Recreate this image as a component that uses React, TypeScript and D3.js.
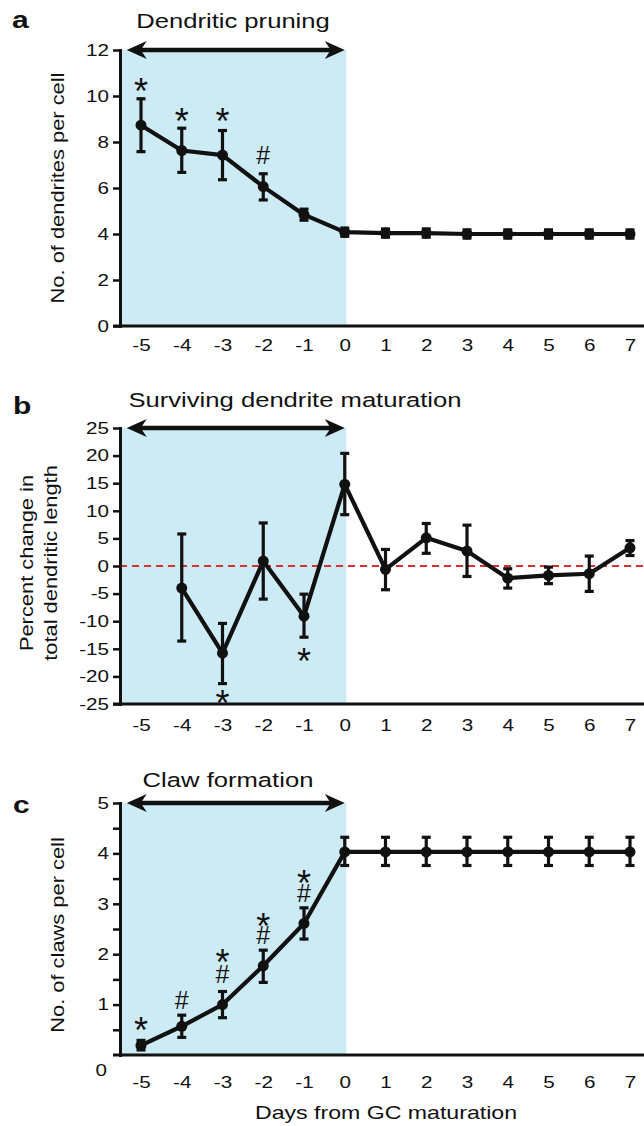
import React, { useEffect, useRef } from 'react';
import * as d3 from 'd3';

const W = 644;
const H = 1126;
const FONT = 'Arial, "Liberation Sans", Helvetica, sans-serif';
const SX = 1.25; // lettering in the figure is set wide
const SHADE = '#cdebf5';
const INK = '#111111';
const AXIS_X = 120;

// days on the x axis, shared by all three panels
const dayTicks = [-5, -4, -3, -2, -1, 0, 1, 2, 3, 4, 5, 6, 7];

// a: number of dendrites per cell
const dendDays = [-5, -4, -3, -2, -1, 0, 1, 2, 3, 4, 5, 6, 7];
const dendMean = [8.73, 7.63, 7.43, 6.06, 4.84, 4.08, 4.04, 4.04, 4.0, 4.0, 4.0, 4.0, 4.0];
const dendLow = [7.58, 6.68, 6.36, 5.48, 4.6, 3.9, 3.86, 3.86, 3.82, 3.82, 3.82, 3.82, 3.82];
const dendHigh = [9.88, 8.6, 8.5, 6.62, 5.08, 4.26, 4.22, 4.22, 4.18, 4.18, 4.18, 4.18, 4.18];
const dendTicks = [0, 2, 4, 6, 8, 10, 12];
const dendMarkDays = [-5, -4, -3, -2];
const dendMarkSyms = ['*', '*', '*', '#'];
const dendMarkAt = [10.55, 9.25, 9.25, 7.43];

// b: percent change in total dendritic length
const lenDays = [-4, -3, -2, -1, 0, 1, 2, 3, 4, 5, 6, 7];
const lenMean = [-4.0, -15.8, 0.9, -9.1, 14.8, -0.6, 5.1, 2.7, -2.2, -1.7, -1.4, 3.3];
const lenLow = [-13.6, -21.3, -6.0, -12.9, 9.3, -4.3, 2.3, -1.9, -4.0, -3.2, -4.6, 1.9];
const lenHigh = [5.8, -10.4, 7.8, -5.1, 20.4, 3.0, 7.7, 7.4, -0.5, -0.2, 1.8, 4.6];
const lenTicks = [-25, -20, -15, -10, -5, 0, 5, 10, 15, 20, 25];
const lenMarkDays = [-3, -1];
const lenMarkSyms = ['*', '*'];
const lenMarkAt = [-23.4, -15.9];

// c: number of claws per cell
const clawDays = [-5, -4, -3, -2, -1, 0, 1, 2, 3, 4, 5, 6, 7];
const clawMean = [0.19, 0.57, 1.0, 1.77, 2.61, 4.03, 4.03, 4.03, 4.03, 4.03, 4.03, 4.03, 4.03];
const clawLow = [0.1, 0.35, 0.74, 1.44, 2.3, 3.76, 3.76, 3.76, 3.76, 3.76, 3.76, 3.76, 3.76];
const clawHigh = [0.29, 0.79, 1.26, 2.08, 2.92, 4.32, 4.32, 4.32, 4.32, 4.32, 4.32, 4.32, 4.32];
const clawTicks = [0.5, 1, 1.5, 2, 2.5, 3, 3.5, 4, 4.5, 5];
const clawMarkDays = [-5, -4, -3, -3, -2, -2, -1, -1];
const clawMarkSyms = ['*', '#', '#', '*', '#', '*', '#', '*'];
const clawMarkAt = [0.64, 1.08, 1.61, 2.0, 2.37, 2.71, 3.21, 3.57];

const x = d3.scaleLinear().domain([-5, 7]).range([141, 630]);

const panels = [
  {
    letter: 'a', letterPos: [12, 28], title: 'Dendritic pruning', titlePos: [233, 28],
    yLabel: ['No. of dendrites per cell'], yLabelX: [64], yLabelY: 188,
    yDomain: [0, 12], yRange: [326, 50], ticks: dendTicks, fmt: (d) => String(d), xPad: 13,
    days: dendDays, mean: dendMean, low: dendLow, high: dendHigh,
    markDays: dendMarkDays, markSyms: dendMarkSyms, markAt: dendMarkAt, zeroLine: false,
  },
  {
    letter: 'b', letterPos: [13, 414], title: 'Surviving dendrite maturation', titlePos: [295, 407],
    yLabel: ['Percent change in', 'total dendritic length'], yLabelX: [33, 57], yLabelY: 563,
    yDomain: [-25, 25], yRange: [704, 428], ticks: lenTicks, fmt: (d) => String(d), xPad: 15,
    days: lenDays, mean: lenMean, low: lenLow, high: lenHigh,
    markDays: lenMarkDays, markSyms: lenMarkSyms, markAt: lenMarkAt, zeroLine: true,
  },
  {
    letter: 'c', letterPos: [13, 813], title: 'Claw formation', titlePos: [228, 787],
    yLabel: ['No. of claws per cell'], yLabelX: [64], yLabelY: 935,
    yDomain: [0, 5], yRange: [1055, 803], ticks: clawTicks,
    fmt: (d) => (Number.isInteger(d) ? String(d) : ''), xPad: 21,
    days: clawDays, mean: clawMean, low: clawLow, high: clawHigh,
    markDays: clawMarkDays, markSyms: clawMarkSyms, markAt: clawMarkAt, zeroLine: false,
  },
];

function wideText(g, o) {
  const { px, py, text, size, anchor = 'middle', weight = 'normal', rotate = 0, sx = SX } = o;
  return g.append('text')
    .attr('transform', `translate(${px},${py}) rotate(${rotate}) scale(${sx},1)`)
    .attr('text-anchor', anchor)
    .attr('font-family', FONT)
    .attr('font-size', size)
    .attr('font-weight', weight)
    .attr('fill', INK)
    .text(text);
}

function drawPanel(svg, p) {
  const y = d3.scaleLinear().domain(p.yDomain).range(p.yRange);
  const [yBottom, yTop] = p.yRange;
  const g = svg.append('g');

  // shaded pre-maturation window
  g.append('rect')
    .attr('x', AXIS_X)
    .attr('y', yTop)
    .attr('width', x(0.04) - AXIS_X)
    .attr('height', yBottom - yTop)
    .attr('fill', SHADE);

  if (p.zeroLine) {
    g.append('line')
      .attr('x1', AXIS_X).attr('x2', W)
      .attr('y1', y(0)).attr('y2', y(0))
      .attr('stroke', '#d8312c').attr('stroke-width', 2).attr('stroke-dasharray', '7,5');
  }

  // x axis: plain line with labels only
  g.append('line')
    .attr('x1', AXIS_X - 7).attr('x2', W)
    .attr('y1', yBottom).attr('y2', yBottom)
    .attr('stroke', INK).attr('stroke-width', 3);
  const xAxis = g.append('g')
    .attr('transform', `translate(0,${yBottom})`)
    .call(d3.axisBottom(x).tickValues(dayTicks).tickSize(0).tickPadding(p.xPad).tickFormat((d) => String(d)));
  xAxis.select('.domain').remove();
  xAxis.attr('font-family', FONT).attr('font-size', 16.5);
  xAxis.selectAll('text').attr('fill', INK).attr('transform', `scale(${SX},1)`);

  // y axis
  const yAxis = g.append('g')
    .attr('transform', `translate(${AXIS_X},0)`)
    .call(d3.axisLeft(y).tickValues(p.ticks).tickSize(7).tickSizeOuter(0).tickPadding(4).tickFormat(p.fmt));
  yAxis.attr('font-family', FONT).attr('font-size', 16.5);
  yAxis.select('.domain').attr('stroke', INK).attr('stroke-width', 3).attr('stroke-linecap', 'square');
  yAxis.selectAll('.tick line').attr('stroke', INK).attr('stroke-width', 2.5);
  yAxis.selectAll('.tick text').attr('fill', INK).attr('x', null).attr('transform', `translate(-11,0) scale(${SX},1)`);

  // double-headed arrow over the shaded window
  const ay = yTop;
  const ax1 = x(-5.35);
  const ax2 = x(0);
  g.append('line')
    .attr('x1', ax1 + 10).attr('x2', ax2 - 10)
    .attr('y1', ay).attr('y2', ay)
    .attr('stroke', INK).attr('stroke-width', 4.5);
  const head = (tip, dir) =>
    `M${tip},${ay} L${tip + dir * 20},${ay - 9} L${tip + dir * 14},${ay} L${tip + dir * 20},${ay + 9} Z`;
  g.append('path').attr('d', head(ax1, 1)).attr('fill', INK);
  g.append('path').attr('d', head(ax2, -1)).attr('fill', INK);

  // data
  const pts = p.days.map((d, i) => ({ d, m: p.mean[i], lo: p.low[i], hi: p.high[i] }));
  const bars = g.append('g').attr('stroke', INK).attr('stroke-width', 3.2);
  bars.selectAll('line.v').data(pts).join('line').attr('class', 'v')
    .attr('x1', (d) => x(d.d)).attr('x2', (d) => x(d.d))
    .attr('y1', (d) => y(d.lo)).attr('y2', (d) => y(d.hi));
  bars.selectAll('line.lo').data(pts).join('line').attr('class', 'lo')
    .attr('x1', (d) => x(d.d) - 4.5).attr('x2', (d) => x(d.d) + 4.5)
    .attr('y1', (d) => y(d.lo)).attr('y2', (d) => y(d.lo));
  bars.selectAll('line.hi').data(pts).join('line').attr('class', 'hi')
    .attr('x1', (d) => x(d.d) - 4.5).attr('x2', (d) => x(d.d) + 4.5)
    .attr('y1', (d) => y(d.hi)).attr('y2', (d) => y(d.hi));

  const line = d3.line().x((d) => x(d.d)).y((d) => y(d.m));
  g.append('path').datum(pts).attr('d', line)
    .attr('fill', 'none').attr('stroke', INK).attr('stroke-width', 4.2).attr('stroke-linejoin', 'round');

  g.append('g').selectAll('circle').data(pts).join('circle')
    .attr('cx', (d) => x(d.d)).attr('cy', (d) => y(d.m)).attr('r', 5.5).attr('fill', INK);

  // significance marks, centred on the given value
  p.markDays.forEach((day, i) => {
    const sym = p.markSyms[i];
    const size = sym === '*' ? 36 : 25;
    const lift = sym === '*' ? 0.575 : 0.35;
    g.append('text')
      .attr('x', x(day))
      .attr('y', y(p.markAt[i]) + lift * size)
      .attr('text-anchor', 'middle')
      .attr('font-family', FONT)
      .attr('font-size', size)
      .attr('fill', INK)
      .text(sym);
  });

  // lettering
  wideText(g, { px: p.letterPos[0], py: p.letterPos[1], text: p.letter, size: 24, anchor: 'start', weight: 'bold' });
  wideText(g, { px: p.titlePos[0], py: p.titlePos[1], text: p.title, size: 20.5 });
  p.yLabel.forEach((t, i) => {
    wideText(g, { px: p.yLabelX[i], py: p.yLabelY, text: t, size: 17.5, rotate: -90 });
  });
}

export default function App() {
  const ref = useRef(null);

  useEffect(() => {
    const svg = d3.select(ref.current);
    svg.selectAll('*').remove();
    svg.append('rect').attr('width', W).attr('height', H).attr('fill', '#ffffff');

    panels.forEach((p) => drawPanel(svg, p));

    // lone "0" of panel c sits below the axis corner
    wideText(svg, { px: 107, py: 1076, text: '0', size: 16.5, anchor: 'end' });
    wideText(svg, { px: 386, py: 1119, text: 'Days from GC maturation', size: 18.5 });
  }, []);

  return (
    <svg
      ref={ref}
      width={W}
      height={H}
      style={{ position: 'absolute', left: 0, top: 0, display: 'block' }}
    />
  );
}
